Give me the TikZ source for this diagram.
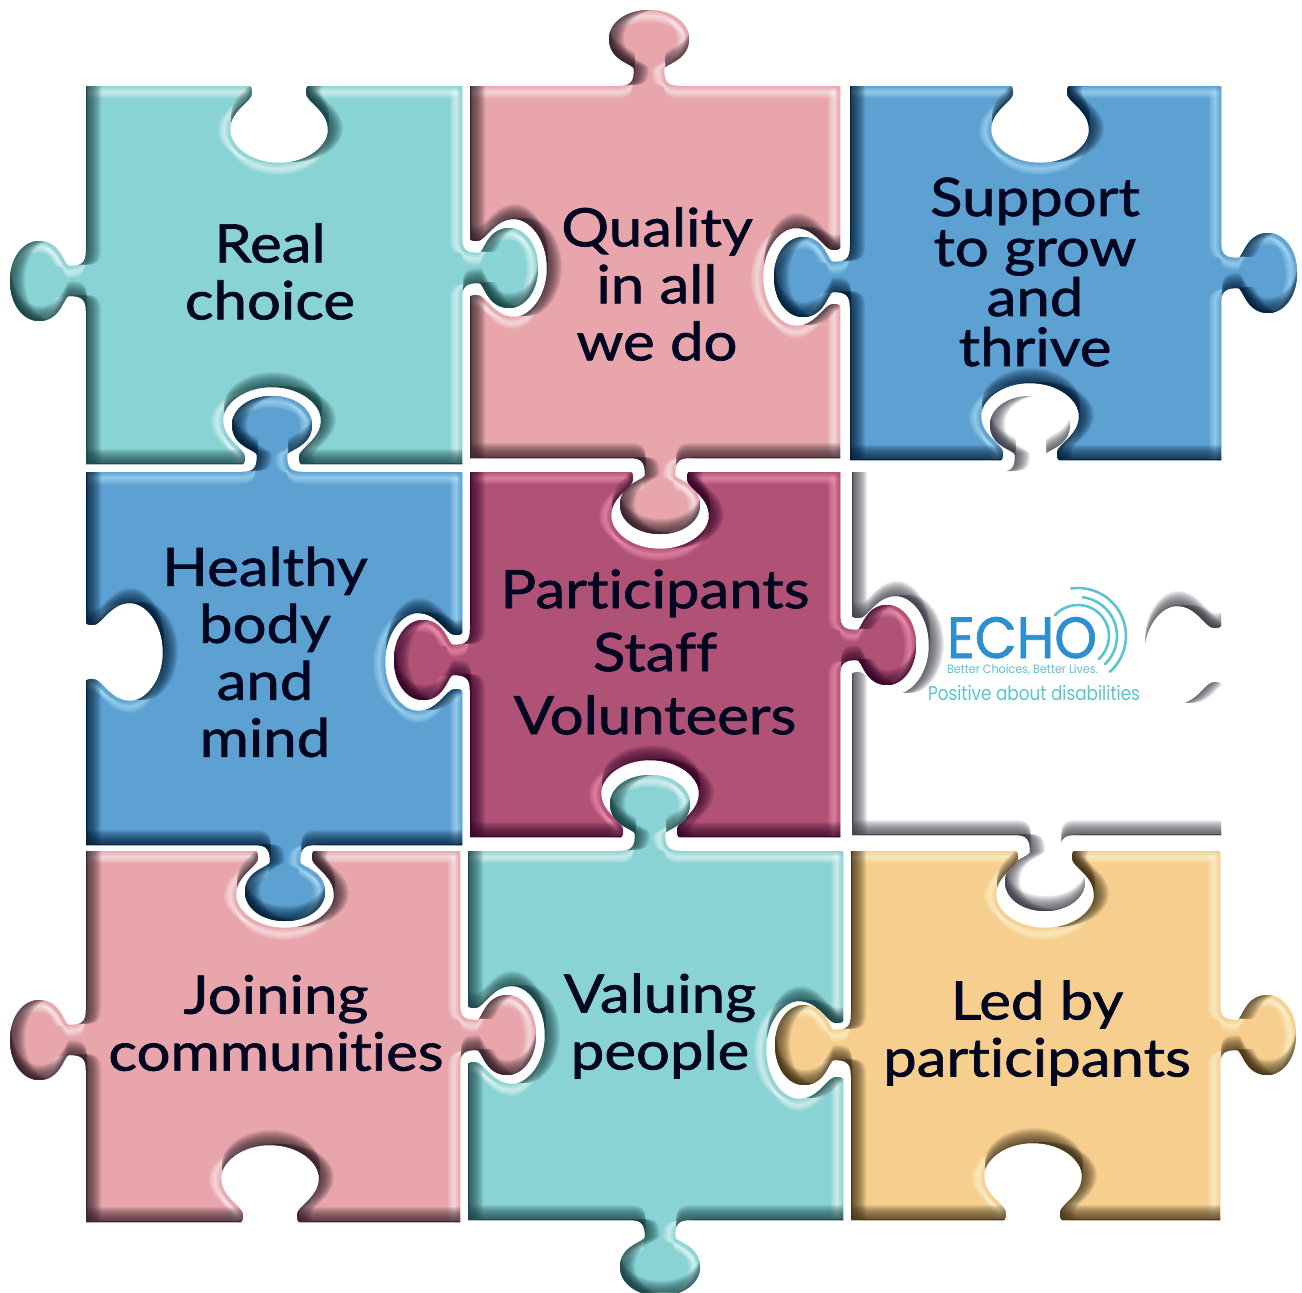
\documentclass[tikz,border=0pt]{standalone}
\usepackage{fontspec}
\usepackage{graphicx}
\setmainfont{Lato}
\newfontfamily\lab[FakeBold=1.3,FakeStretch=1.13,Ligatures=NoCommon]{Lato}
\newfontfamily\logo{Poppins}
\newfontfamily\logobold[FakeBold=1.2]{Poppins}
\definecolor{txt}{HTML}{020620}
\definecolor{pTeal}{HTML}{8AD3D5}\definecolor{dTeal}{HTML}{1B4648}\definecolor{lTeal}{HTML}{F4FCFC}
\definecolor{pPink}{HTML}{E8A6AC}\definecolor{dPink}{HTML}{38222C}\definecolor{lPink}{HTML}{FFF6F7}
\definecolor{pBlue}{HTML}{5CA1D1}\definecolor{dBlue}{HTML}{05233E}\definecolor{lBlue}{HTML}{B4E4FA}
\definecolor{pMag}{HTML}{B05276}\definecolor{dMag}{HTML}{38082B}\definecolor{lMag}{HTML}{F89ABC}
\definecolor{pYel}{HTML}{F6CF8F}\definecolor{dYel}{HTML}{463519}\definecolor{lYel}{HTML}{FFFBDC}
\definecolor{pWhi}{HTML}{FFFFFF}\definecolor{dWhi}{HTML}{40404C}\definecolor{lWhi}{HTML}{FFFFFF}
\definecolor{logoB}{HTML}{2E8FD0}\definecolor{logoT}{HTML}{5AC4D0}
\makeatletter
\def\pzP#1#2{\pgfmathsetmacro\pz@x{\pzOx+\pzDx*(#1)+\pzNx*\pzS*(#2)}%
 \pgfmathsetmacro\pz@y{\pzOy+\pzDy*(#1)+\pzNy*\pzS*(#2)}%
 \xdef\pth{\pth(\pz@x,\pz@y)}}
\def\pzA#1{\xdef\pth{\pth #1}}
\def\pzC#1#2#3#4#5#6{\pzA{ .. controls }\pzP{#1}{#2}\pzA{ and }\pzP{#3}{#4}\pzA{ .. }\pzP{#5}{#6}}
\def\pzbump{%
 \ifnum\pzS=1
  \def\A{30}\def\F{13}\def\N{15}\def\Vn{17}\def\H{40}\def\Vh{47}\def\D{76}\def\G{22}\def\K{5}
 \else
  \def\A{29}\def\F{1}\def\N{27}\def\Vn{7}\def\H{49}\def\Vh{44}\def\D{77}\def\G{20}\def\K{9}
 \fi
 \pzA{ -- }\pzP{-\A}{0}%
 \pzC{-\A+\F}{0}{-\N}{\Vn*.35}{-\N}{\Vn}%
 \pzC{-\N}{\Vn+\K}{-\H}{\Vh-\G}{-\H}{\Vh}%
 \pzC{-\H}{\Vh+16}{-.58*\H}{\D}{0}{\D}%
 \pzC{.58*\H}{\D}{\H}{\Vh+16}{\H}{\Vh}%
 \pzC{\H}{\Vh-\G}{\N}{\Vn+\K}{\N}{\Vn}%
 \pzC{\N}{\Vn*.35}{\A-\F}{0}{\A}{0}}
\def\pzedge#1#2#3#4#5#6#7{\def\pzOx{#1}\def\pzOy{#2}\def\pzDx{#3}\def\pzDy{#4}\def\pzNx{#5}\def\pzNy{#6}\def\pzS{#7}%
 \ifnum#7=0\else\pzbump\fi}
% clockwise from the top-left corner; sign: 1 tab, -1 notch
\newcommand\pzbegin[4]{\def\xa{#1}\def\ya{#2}\def\xb{#3}\def\yb{#4}\xdef\pth{(#1,#2)}}
\newcommand\pzT[2]{\pzedge{#1}{\ya}{1}{0}{0}{-1}{#2}\pzA{ -- (\xb,\ya)}}
\newcommand\pzR[2]{\pzedge{\xb}{#1}{0}{1}{1}{0}{#2}\pzA{ -- (\xb,\yb)}}
\newcommand\pzB[2]{\pzedge{#1}{\yb}{-1}{0}{0}{1}{#2}\pzA{ -- (\xa,\yb)}}
\newcommand\pzL[2]{\pzedge{\xa}{#1}{0}{-1}{-1}{0}{#2}\pzA{ -- cycle}}
\makeatother
\tikzset{band/.style={even odd rule,opacity=#1}}
\newcommand\pzbig{(-300,-300) rectangle (1700,1700)}
% base, dark, light colours
\newcommand\pzdraw[3]{%
 \begin{scope}
  \clip \pth;
  \fill[#1] (0,0) rectangle (1302,1292);
  \foreach \dd in {12,11,...,2}{%
   \fill[#3,band=.13,shift={(-\dd,1)}] \pzbig \pth;
   \fill[#3,band=.13,shift={(-1,\dd)}] \pzbig \pth;}
  \foreach \dd in {5,4,3,2}{%
   \fill[#1,band=.28,shift={(-\dd,1)}] \pzbig \pth;
   \fill[#1,band=.28,shift={(-1,\dd)}] \pzbig \pth;}
  \foreach \dd in {15,14,...,1}{%
   \fill[#2,band=.09,shift={(\dd,-1)}] \pzbig \pth;
   \fill[#2,band=.09,shift={(1,-\dd)}] \pzbig \pth;}
 \end{scope}}
\tikzset{
 lblA/.style={text=txt,align=center,inner sep=0pt,outer sep=0pt,font=\lab\fontsize{26.5}{28.5}\selectfont},
 lblB/.style={text=txt,align=center,inner sep=0pt,outer sep=0pt,font=\lab\fontsize{26.5}{25}\selectfont},
 lblC/.style={text=txt,align=center,inner sep=0pt,outer sep=0pt,font=\lab\fontsize{26.5}{31.5}\selectfont},
 logotxt/.style={inner sep=0pt,outer sep=0pt,font=\logo},
 wave/.style={draw=logoT,line width=1.3pt,line cap=round}
}
\begin{document}
\begin{tikzpicture}[x=0.5pt,y=-0.5pt]
\useasboundingbox (0,0) rectangle (1302,1292);
% row 1
\pzbegin{86}{86}{462}{464}\pzT{279}{-1}\pzR{268}{1}\pzB{272}{-1}\pzL{281}{1}\pzdraw{pTeal}{dTeal}{lTeal}
\pzbegin{470}{86}{840}{458}\pzT{649}{1}\pzR{277}{-1}\pzB{660}{1}\pzL{268}{-1}\pzdraw{pPink}{dPink}{lPink}
\pzbegin{850}{86}{1221}{460}\pzT{1040}{-1}\pzR{273}{1}\pzB{1030}{-1}\pzL{277}{1}\pzdraw{pBlue}{dBlue}{lBlue}
% row 2
\pzbegin{86}{472}{462}{845}\pzT{272}{1}\pzR{662}{-1}\pzB{285}{1}\pzL{652}{-1}\pzdraw{pBlue}{dBlue}{lBlue}
\pzbegin{470}{472}{840}{837}\pzT{660}{-1}\pzR{645}{1}\pzB{650}{-1}\pzL{660}{1}\pzdraw{pMag}{dMag}{lMag}
\pzbegin{852}{472}{1221}{835}\pzT{1030}{1}\pzR{655}{-1}\pzB{1045}{1}\pzL{645}{-1}\pzdraw{pWhi}{dWhi}{lWhi}
% row 3
\pzbegin{86}{851}{460}{1222}\pzT{285}{-1}\pzR{1035}{1}\pzB{270}{-1}\pzL{1040}{1}\pzdraw{pPink}{dPink}{lPink}
\pzbegin{468}{851}{843}{1220}\pzT{650}{1}\pzR{1050}{-1}\pzB{660}{1}\pzL{1035}{-1}\pzdraw{pTeal}{dTeal}{lTeal}
\pzbegin{851}{851}{1220}{1220}\pzT{1045}{-1}\pzR{1035}{1}\pzB{1033}{-1}\pzL{1045}{1}\pzdraw{pYel}{dYel}{lYel}
% labels
\node[lblA] (real) at (270,271.5) {Real\\choice};
\node[lblA] (quality) at (657,284) {Quality\\in all\\we do};
\node[lblB] (support) at (1035,272) {Support\\to grow\\and\\thrive};
\node[lblA] (healthy) at (265,652) {Healthy\\body\\and\\mind};
\node[lblC] (parts) at (655,652) {Participants\\Staff\\Volunteers};
\node[lblA] (joining) at (276,1023) {Joining\\communities};
\node[lblA] (valuing) at (660,1026) {Valuing\\people};
\node[lblA] (led) at (1037,1033) {Led by\\participants};
% logo
\node[logotxt,text=logoB,anchor=north west,font=\logobold] (echo) at (947,617) {\resizebox{75pt}{20.5pt}{ECHO}};
\coordinate (oc) at (1078,636);
\draw[wave] ([shift={(-98:48)}]oc) arc[start angle=98,end angle=-48,radius=24pt];
\draw[wave] ([shift={(-83:39)}]oc) arc[start angle=83,end angle=-46,radius=19.5pt];
\draw[wave] ([shift={(-138:31)}]oc) arc[start angle=138,end angle=-48,radius=15.5pt];
\node[logotxt,text=logoT,anchor=north west] (better) at (947,664.5) {\resizebox{75.5pt}{4.6pt}{Better Choices, Better Lives.}};
\node[logotxt,text=logoT,anchor=north west] (pos) at (928,685) {\resizebox{106pt}{7.6pt}{Positive about disabilities}};
\end{tikzpicture}
\end{document}
